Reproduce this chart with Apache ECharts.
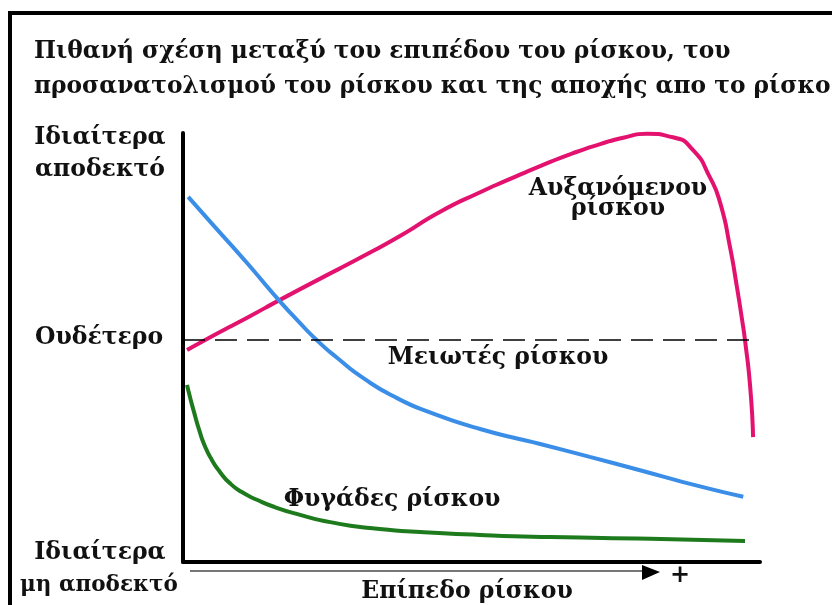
<!DOCTYPE html>
<html>
<head>
<meta charset="utf-8">
<script src="https://cdn.jsdelivr.net/npm/echarts@6/dist/echarts.min.js"></script>
<style>
html,body{margin:0;padding:0;background:#fff;}
#c{width:832px;height:605px;}
</style>
</head>
<body>
<div id="c"></div>
<script>
// Title lines
var titleLines = ['Πιθανή σχέση μεταξύ του επιπέδου του ρίσκου, του',
                  'προσανατολισμού του ρίσκου και της αποχής απο το ρίσκο'];
// Y-axis level labels
var yTopLabel = ['Ιδιαίτερα', 'αποδεκτό'];
var yMidLabel = 'Ουδέτερο';
var yBottomLabel = ['Ιδιαίτερα', 'μη αποδεκτό'];
var xAxisName = 'Επίπεδο ρίσκου';
var seriesNames = ['Αυξανόμενου\nρίσκου', 'Μειωτές ρίσκου', 'Φυγάδες ρίσκου'];
var neutralLevel = 51.7;

// Risk seekers (increasing risk): x = risk level, y = acceptability
var increasingX = [0.7, 6.4, 11.6, 16.8, 23.7, 30.7, 37.6, 44.5, 51.5, 56.2, 61.9, 67.6, 72.3, 76.3, 80.4, 84.9, 88.4, 91.3, 93.1, 94.8, 96.0, 96.9, 97.4, 98.3, 98.8];
var increasingY = [49.4, 53.6, 57.3, 61.1, 66.0, 70.9, 76.0, 81.6, 86.2, 89.0, 92.3, 95.3, 97.4, 98.9, 99.8, 99.0, 96.0, 89.7, 83.7, 73.4, 64.1, 56.4, 51.7, 40.8, 29.1];
// Risk reducers
var reducersX = [0.9, 5.2, 11.1, 16.3, 19.8, 23.2, 26.7, 31.2, 37.1, 42.8, 51.5, 61.9, 70.5, 79.2, 87.9, 97.1];
var reducersY = [85.1, 78.6, 69.7, 61.5, 56.4, 51.7, 47.6, 42.9, 38.2, 34.9, 31.0, 27.5, 24.5, 21.4, 18.2, 15.2];
// Risk avoiders
var avoidersX = [0.7, 1.2, 1.9, 2.8, 3.8, 5.0, 6.4, 8.1, 10.2, 12.8, 15.9, 20.3, 25.5, 32.4, 41.1, 51.5, 63.6, 81.0, 97.4];
var avoidersY = [41.3, 38.5, 35.0, 30.8, 27.0, 23.8, 21.0, 18.4, 16.3, 14.5, 12.8, 11.0, 9.3, 7.9, 7.0, 6.3, 5.8, 5.4, 4.9];

function zip(a, b) { return a.map(function (v, i) { return [v, b[i]]; }); }

var FONT = 'DejaVu Serif';
var chart = echarts.init(document.getElementById('c'));
function txt(x, y, t, size, lh) {
  return { type: 'text', x: x, y: y, style: { text: t, fontFamily: FONT, fontWeight: 'bold', fill: '#111', align: 'center', verticalAlign: 'middle', fontSize: size || 23.5, lineHeight: lh || 32 } };
}
chart.setOption({
  animation: false,
  backgroundColor: '#fff',
  title: {
    text: titleLines.join('\n'),
    left: 29, top: 29,
    textStyle: { fontFamily: FONT, fontWeight: 'bold', fontSize: 23.3, lineHeight: 35, color: '#111' }
  },
  grid: { left: 183, top: 133, right: 72, bottom: 43 },
  xAxis: { type: 'value', min: 0, max: 100, axisLine: { show: true, lineStyle: { color: '#000', width: 4 } }, axisTick: { show: false }, axisLabel: { show: false }, splitLine: { show: false } },
  yAxis: { type: 'value', min: 0, max: 100, axisLine: { show: true, lineStyle: { color: '#000', width: 4 } }, axisTick: { show: false }, axisLabel: { show: false }, splitLine: { show: false } },
  series: [
    { type: 'line', name: seriesNames[0], data: zip(increasingX, increasingY), smooth: 0.6, symbol: 'none', lineStyle: { color: '#e3126f', width: 4 },
      markLine: { silent: true, symbol: 'none', label: { show: false }, lineStyle: { color: '#000', type: [22, 10], width: 1.5 },
        data: [[{ coord: [0, neutralLevel] }, { coord: [98.8, neutralLevel] }]] } },
    { type: 'line', name: seriesNames[1], data: zip(reducersX, reducersY), smooth: 0.6, symbol: 'none', lineStyle: { color: '#3a8ee8', width: 4 } },
    { type: 'line', name: seriesNames[2], data: zip(avoidersX, avoidersY), smooth: 0.6, symbol: 'none', lineStyle: { color: '#1d7a1d', width: 4 } }
  ],
  graphic: [
    { type: 'line', shape: { x1: 8, y1: 13, x2: 832, y2: 13 }, style: { stroke: '#000', lineWidth: 4 } },
    { type: 'line', shape: { x1: 10, y1: 11, x2: 10, y2: 605 }, style: { stroke: '#000', lineWidth: 4 } },
    txt(100, 138, yTopLabel[0]),
    txt(100, 170, yTopLabel[1]),
    txt(99, 338, yMidLabel),
    txt(100, 553, yBottomLabel[0]),
    txt(99, 585, yBottomLabel[1], 21.5),
    txt(618, 199, seriesNames[0], 23.5, 20),
    txt(498, 358, seriesNames[1]),
    txt(392, 500, seriesNames[2]),
    txt(467, 592, xAxisName),
    { type: 'line', shape: { x1: 190, y1: 571, x2: 645, y2: 571 }, style: { stroke: '#777', lineWidth: 2 } },
    { type: 'polygon', shape: { points: [[642, 565], [660, 572], [642, 580]] }, style: { fill: '#000' } },
    txt(680, 576, '+', 24)
  ]
});
</script>
</body>
</html>
